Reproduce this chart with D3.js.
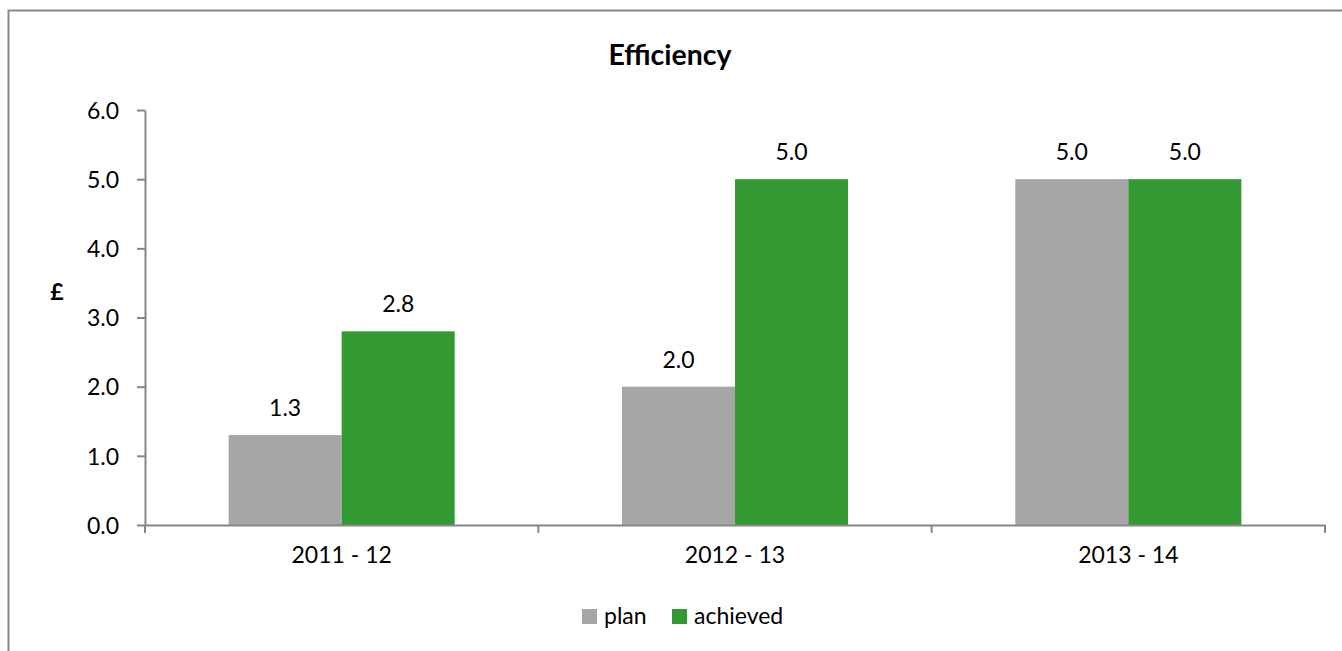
<!DOCTYPE html>
<html>
<head>
<meta charset="utf-8">
<script src="https://cdn.jsdelivr.net/npm/d3@7"></script>
<style>
  body { margin: 0; background: #fff; overflow: hidden; }
  svg { display: block; }
  text { font-family: Lato, "Open Sans", sans-serif; fill: #000; }
</style>
</head>
<body>
<div id="chart"></div>
<script>
// chart data
const categories = ["2011 - 12", "2012 - 13", "2013 - 14"];
const seriesNames = ["plan", "achieved"];
const planValues = [1.3, 2.0, 5.0];
const achievedValues = [2.8, 5.0, 5.0];
const yTicks = [0, 1, 2, 3, 4, 5, 6];
const colors = ["#a6a6a6", "#339933"];

const W = 1342, H = 651;
const margin = {left: 145, right: 17, top: 110, bottom: 126};
const fs = "23px";

const svg = d3.select("#chart").append("svg")
  .attr("width", W).attr("height", H);

// outer chart frame: only the left and top edges fall inside the picture
svg.append("path")
  .attr("d", "M8.5," + H + "V10.5H" + W)
  .attr("fill", "none").attr("stroke", "#878787").attr("stroke-width", 2);

const x0 = d3.scaleBand()
  .domain(categories)
  .range([margin.left, W - margin.right])
  .paddingInner(0).paddingOuter(0);

const x1 = d3.scaleBand()
  .domain(seriesNames)
  .range([0, x0.bandwidth()])
  .paddingOuter(0.74).paddingInner(0);

const y = d3.scaleLinear()
  .domain([0, 6])
  .range([H - margin.bottom, margin.top]);

const rows = categories.map((c, i) => ({
  cat: c,
  vals: [{s: "plan", v: planValues[i]}, {s: "achieved", v: achievedValues[i]}]
}));

// bars
const groups = svg.append("g").selectAll("g")
  .data(rows).enter().append("g")
  .attr("transform", d => "translate(" + x0(d.cat) + ",0)");

groups.selectAll("rect")
  .data(d => d.vals).enter().append("rect")
  .attr("x", d => x1(d.s))
  .attr("width", x1.bandwidth())
  .attr("y", d => y(d.v))
  .attr("height", d => y(0) - y(d.v))
  .attr("fill", (d, i) => colors[i]);

groups.selectAll("text")
  .data(d => d.vals).enter().append("text")
  .attr("x", d => x1(d.s) + x1.bandwidth() / 2)
  .attr("y", d => y(d.v) - 19)
  .attr("text-anchor", "middle")
  .style("font-size", fs)
  .text(d => d.v.toFixed(1));

// y axis
const yAxis = svg.append("g")
  .attr("transform", "translate(" + margin.left + ",0)")
  .call(d3.axisLeft(y).tickValues(yTicks).tickSize(8).tickSizeOuter(0).tickPadding(18)
    .tickFormat(d => d.toFixed(1)));
yAxis.selectAll("text").style("font-size", fs).attr("dy", "0.36em");

// x axis
const xAxis = svg.append("g")
  .attr("transform", "translate(0," + y(0) + ")")
  .call(d3.axisBottom(x0).tickSize(0).tickSizeOuter(0).tickPadding(22));
xAxis.selectAll("text").style("font-size", fs).attr("dy", "0.71em");
// category boundary ticks
xAxis.selectAll(".sep")
  .data(categories.concat([null])).enter().append("line")
  .attr("x1", (d, i) => i < categories.length ? x0(d) : x0.range()[1])
  .attr("x2", (d, i) => i < categories.length ? x0(d) : x0.range()[1])
  .attr("y1", 0).attr("y2", 8)
  .attr("stroke", "#868686").attr("stroke-width", 2);

svg.selectAll(".domain, .tick line").attr("stroke", "#868686").attr("stroke-width", 2);

// title
svg.append("text")
  .attr("x", 670).attr("y", 65)
  .attr("text-anchor", "middle")
  .style("font-size", "28.5px").style("font-weight", "bold")
  .text("Efficiency");

// y axis label
svg.append("text")
  .attr("x", 57).attr("y", 300)
  .attr("text-anchor", "middle")
  .style("font-size", fs).style("font-weight", "bold")
  .text("£");

// legend
const legend = svg.append("g");
const legendX = [582, 672];
seriesNames.forEach((s, i) => {
  legend.append("rect")
    .attr("x", legendX[i]).attr("y", 609)
    .attr("width", 15).attr("height", 15)
    .attr("fill", colors[i]);
  legend.append("text")
    .attr("x", legendX[i] + 22).attr("y", 624)
    .style("font-size", fs)
    .text(s);
});
</script>
</body>
</html>
